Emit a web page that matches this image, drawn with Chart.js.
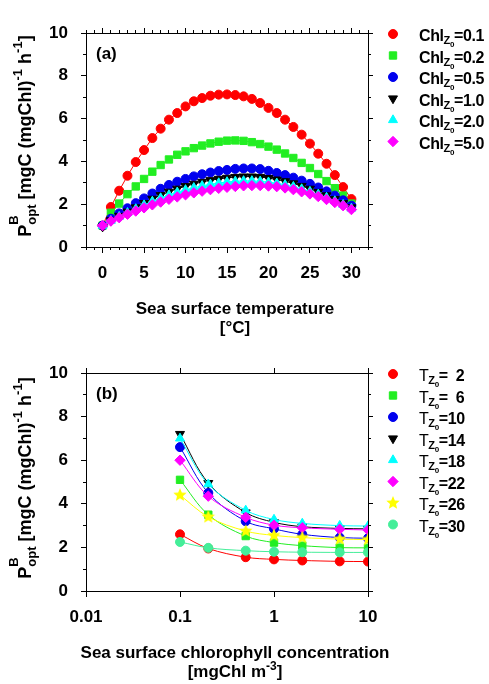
<!DOCTYPE html>
<html>
<head>
<meta charset="utf-8">
<script src="https://cdn.jsdelivr.net/npm/chart.js@4/dist/chart.umd.min.js"></script>
<style>
  html, body { margin: 0; padding: 0; background: #fff; }
  #wrap { position: relative; width: 489px; height: 684px; }
  #chartA { position: absolute; left: 0; top: 0; }
  #chartB { position: absolute; left: 0; top: 340px; }
</style>
</head>
<body>
<div id="wrap">
  <canvas id="chartA" width="489" height="340"></canvas>
  <canvas id="chartB" width="489" height="344"></canvas>
</div>
<script>
// ---- data, panel (a): P_opt vs sea surface temperature ----
var tempC = [0, 1, 2, 3, 4, 5, 6, 7, 8, 9, 10, 11, 12, 13, 14, 15, 16, 17, 18, 19, 20,
             21, 22, 23, 24, 25, 26, 27, 28, 29, 30];
var chlLevels = ['0.1', '0.2', '0.5', '1.0', '2.0', '5.0'];
var pChl01 = [1.0, 1.87, 2.63, 3.33, 3.97, 4.53, 5.09, 5.53, 5.95, 6.26, 6.57, 6.81, 6.96, 7.07, 7.12, 7.13,
              7.10, 7.04, 6.92, 6.73, 6.50, 6.26, 5.95, 5.61, 5.25, 4.83, 4.36, 3.89, 3.36, 2.80, 2.24];
var pChl02 = [1.0, 1.60, 2.03, 2.47, 2.83, 3.18, 3.52, 3.83, 4.09, 4.31, 4.47, 4.62, 4.74, 4.84, 4.92, 4.97,
              4.98, 4.96, 4.90, 4.81, 4.69, 4.55, 4.37, 4.16, 3.93, 3.69, 3.41, 3.08, 2.75, 2.40, 2.03];
var pChl05 = [1.0, 1.32, 1.57, 1.81, 2.05, 2.27, 2.50, 2.72, 2.90, 3.05, 3.18, 3.30, 3.40, 3.48, 3.55, 3.60,
              3.65, 3.67, 3.67, 3.64, 3.56, 3.46, 3.36, 3.24, 3.10, 2.95, 2.78, 2.60, 2.40, 2.18, 1.93];
var pChl10 = [0.95, 1.25, 1.45, 1.65, 1.85, 2.05, 2.25, 2.42, 2.58, 2.72, 2.84, 2.95, 3.04, 3.12, 3.18, 3.23,
              3.27, 3.29, 3.29, 3.27, 3.22, 3.15, 3.07, 2.97, 2.85, 2.72, 2.57, 2.41, 2.24, 2.05, 1.85];
var pChl20 = [1.0, 1.23, 1.42, 1.60, 1.78, 1.96, 2.13, 2.29, 2.43, 2.56, 2.67, 2.77, 2.86, 2.93, 2.99, 3.04,
              3.07, 3.09, 3.09, 3.07, 3.03, 2.98, 2.91, 2.82, 2.71, 2.59, 2.46, 2.31, 2.15, 1.98, 1.80];
var pChl50 = [1.0, 1.21, 1.37, 1.53, 1.68, 1.83, 1.97, 2.10, 2.23, 2.34, 2.44, 2.53, 2.61, 2.68, 2.74, 2.79,
              2.83, 2.86, 2.87, 2.87, 2.85, 2.82, 2.76, 2.68, 2.58, 2.48, 2.36, 2.22, 2.08, 1.93, 1.75];

// ---- data, panel (b): P_opt vs sea surface chlorophyll ----
var chlConc = [0.1, 0.2, 0.5, 1, 2, 5, 10];
var tempLevels = [2, 6, 10, 14, 18, 22, 26, 30];
var pT02 = [2.60, 1.95, 1.55, 1.45, 1.40, 1.36, 1.35];
var pT06 = [5.10, 3.50, 2.52, 2.22, 2.08, 1.99, 1.98];
var pT10 = [6.60, 4.50, 3.20, 2.85, 2.60, 2.45, 2.42];
var pT14 = [7.20, 4.95, 3.60, 3.15, 2.95, 2.87, 2.85];
var pT18 = [7.00, 4.90, 3.70, 3.28, 3.10, 3.00, 2.98];
var pT22 = [6.00, 4.35, 3.38, 3.02, 2.90, 2.83, 2.80];
var pT26 = [4.40, 3.40, 2.75, 2.55, 2.45, 2.38, 2.36];
var pT30 = [2.25, 1.98, 1.85, 1.80, 1.78, 1.77, 1.77];

// ---- tick labels ----
var yTicks = [0, 2, 4, 6, 8, 10];
var xTicksA = [0, 5, 10, 15, 20, 25, 30];
var xTicksB = [0.01, 0.1, 1, 10];

var FAMILY = '"Liberation Sans", Arial, Helvetica, sans-serif';
Chart.defaults.font.family = FAMILY;
Chart.defaults.font.size = 17;
Chart.defaults.font.weight = 'bold';
Chart.defaults.color = '#000';

function makeStar(color, r) {
    var c = document.createElement('canvas');
    c.width = c.height = 2 * r + 2;
    var g = c.getContext('2d');
    g.fillStyle = color;
    g.beginPath();
    for (var k = 0; k < 10; k++) {
        var rr = k % 2 ? r * 0.45 : r;
        var a = -Math.PI / 2 + k * Math.PI / 5;
        g.lineTo(r + 1 + rr * Math.cos(a), r + 1 + rr * Math.sin(a));
    }
    g.closePath();
    g.fill();
    return c;
}

function segFont(s) { return (s.w || 'bold') + ' ' + (s.s || 17) + 'px ' + FAMILY; }

// draw text with sub/superscripts; s.stack = do not advance (next seg shares x)
function drawRich(ctx, segs, x, y, align) {
    var total = 0;
    segs.forEach(function (s) {
        ctx.font = segFont(s);
        s._w = ctx.measureText(s.t).width;
        if (!s.stack) total += s._w;
    });
    var cx = align === 'center' ? x - total / 2 : x;
    ctx.textAlign = 'left';
    ctx.textBaseline = 'alphabetic';
    segs.forEach(function (s) {
        ctx.font = segFont(s);
        ctx.fillText(s.t, cx, y + (s.dy || 0));
        if (!s.stack) cx += s._w;
    });
}

var yTitle = [
    {t: 'P', s: 18}, {t: 'B', s: 13, dy: -13, stack: true}, {t: 'opt', s: 13, dy: 5},
    {t: ' [mgC (mgChl)', s: 18}, {t: '-1', s: 13, dy: -9}, {t: ' h', s: 18},
    {t: '-1', s: 13, dy: -9}, {t: ']', s: 18}
];

var richText = {
    id: 'richText',
    afterDraw: function (chart, args, opts) {
        var ctx = chart.ctx, ca = chart.chartArea;
        ctx.save();
        ctx.fillStyle = '#000';
        drawRich(ctx, [{t: opts.panel, s: 17}], ca.left + 10, ca.top + 26, 'left');
        opts.xTitle.forEach(function (line, i) {
            drawRich(ctx, line, 235, ca.bottom + 67 + i * 19, 'center');
        });
        ctx.save();
        ctx.translate(31, (ca.top + ca.bottom) / 2 - 4);
        ctx.rotate(-Math.PI / 2);
        drawRich(ctx, yTitle, 0, 0, 'center');
        ctx.restore();

        // legend
        chart.data.datasets.forEach(function (ds, i) {
            var y = ca.top + 1 + i * 21.5;
            ctx.fillStyle = ds.backgroundColor;
            ctx.strokeStyle = ds.backgroundColor;
            ctx.lineWidth = 1;
            Chart.helpers.drawPoint(ctx, {
                pointStyle: ds.pointStyle, rotation: ds.pointRotation || 0,
                radius: ds.pointRadius, borderWidth: 1
            }, ca.right + 25, y);
            ctx.fillStyle = '#000';
            ctx.letterSpacing = '-0.4px';
            drawRich(ctx, opts.legend[i], ca.right + 51, y + 7, 'left');
            ctx.letterSpacing = '0px';
        });
        ctx.restore();
    }
};

function series(label, data, color, style, radius, rot) {
    return {
        label: label, data: data, borderColor: color, backgroundColor: color,
        borderWidth: 1, pointStyle: style, pointRadius: radius, pointRotation: rot || 0,
        pointBorderWidth: 1, pointBorderColor: color, pointBackgroundColor: color
    };
}

function frameScales(xType, xMin, xMax, xMajor, xStep, yMin, yMax) {
    function fixTicks(list) { return function (s) { s.ticks = list.map(function (v) { return {value: v}; }); }; }
    var grid = function (len) { return {drawOnChartArea: false, drawTicks: true, tickLength: len, tickColor: '#000', tickWidth: 1}; };
    var sc = {
        x: {
            axis: 'x', type: xType, position: 'bottom', min: xMin, max: xMax, weight: 1,
            afterBuildTicks: fixTicks(xMajor),
            ticks: {autoSkip: false, maxRotation: 0, padding: 10, callback: function (v) { return String(v); }},
            grid: grid(6), border: {display: true, color: '#000', width: 1},
            afterFit: function (s) { s.height = 93; }
        },
        xTop: {
            axis: 'x', type: xType, position: 'top', min: xMin, max: xMax, weight: 1,
            afterBuildTicks: fixTicks(xMajor), ticks: {display: false},
            grid: grid(5), border: {display: true, color: '#000', width: 1},
            afterFit: function (s) { s.height = 0; }
        },
        y: {
            axis: 'y', type: 'linear', position: 'left', min: yMin, max: yMax, weight: 1,
            afterBuildTicks: fixTicks(yTicks),
            ticks: {padding: 13, callback: function (v) { return String(v); }},
            grid: grid(5), border: {display: true, color: '#000', width: 1},
            afterFit: function (s) { s.width = 86; }
        },
        yMinor: {
            axis: 'y', type: 'linear', position: 'left', min: yMin, max: yMax, weight: 0,
            ticks: {display: false, stepSize: 1}, grid: grid(3), border: {display: false},
            afterFit: function (s) { s.width = 0; }
        },
        yRight: {
            axis: 'y', type: 'linear', position: 'right', min: yMin, max: yMax, weight: 1,
            afterBuildTicks: fixTicks(yTicks), ticks: {display: false},
            grid: grid(5), border: {display: true, color: '#000', width: 1},
            afterFit: function (s) { s.width = 0; }
        },
        yRightMinor: {
            axis: 'y', type: 'linear', position: 'right', min: yMin, max: yMax, weight: 0,
            ticks: {display: false, stepSize: 1}, grid: grid(3), border: {display: false},
            afterFit: function (s) { s.width = 0; }
        }
    };
    if (xStep) {
        sc.xMinor = {
            axis: 'x', type: xType, position: 'bottom', min: xMin, max: xMax, weight: 0,
            ticks: {display: false, stepSize: xStep}, grid: grid(3), border: {display: false},
            afterFit: function (s) { s.height = 0; }
        };
        sc.xTopMinor = {
            axis: 'x', type: xType, position: 'top', min: xMin, max: xMax, weight: 0,
            ticks: {display: false, stepSize: xStep}, grid: grid(3), border: {display: false},
            afterFit: function (s) { s.height = 0; }
        };
    }
    return sc;
}

function baseOptions(scales, rich) {
    return {
        responsive: false,
        animation: false,
        events: [],
        layout: {padding: {left: 0, right: 121, top: 33, bottom: 0}},
        scales: scales,
        plugins: {legend: {display: false}, tooltip: {enabled: false}, richText: rich}
    };
}

function chlLegend(lvl) {
    return [{t: 'Chl', s: 16}, {t: 'Z', s: 11, dy: 3}, {t: '0', s: 8, dy: 6}, {t: '=' + lvl, s: 16}];
}
function tLegend(lvl) {
    var txt = lvl < 10 ? '=  ' + lvl : '=' + lvl;
    return [{t: 'T', s: 16, w: 'normal'}, {t: 'Z', s: 11, dy: 3}, {t: '0', s: 8, dy: 6}, {t: txt, s: 16}];
}

// ---- panel (a) ----
var dsA = [
    series('Chl 0.1', pChl01, '#ff0000', 'circle', 4.5),
    series('Chl 0.2', pChl02, '#22ee22', 'rect', 5.2),
    series('Chl 0.5', pChl05, '#0000ee', 'circle', 4.5),
    series('Chl 1.0', pChl10, '#000000', 'triangle', 5.2, 180),
    series('Chl 2.0', pChl20, '#00ffff', 'triangle', 5.2),
    series('Chl 5.0', pChl50, '#ff00ff', 'rectRot', 5.2)
];
dsA.forEach(function (d, i) { d.order = 10 - i; });

new Chart(document.getElementById('chartA').getContext('2d'), {
    type: 'line',
    data: {
        datasets: dsA.map(function (d) {
            d.data = d.data.map(function (v, i) { return {x: tempC[i], y: v}; });
            return d;
        })
    },
    options: baseOptions(frameScales('linear', -2, 32, xTicksA, 1, 0, 10), {
        panel: '(a)',
        xTitle: [[{t: 'Sea surface temperature', s: 17}], [{t: '[°C]', s: 17}]],
        legend: chlLevels.map(chlLegend)
    }),
    plugins: [richText]
});

// ---- panel (b) ----
var star = makeStar('#ffff00', 7);
var dsB = [
    series('T 2', pT02, '#ff0000', 'circle', 4.5),
    series('T 6', pT06, '#22ee22', 'rect', 5.2),
    series('T 10', pT10, '#0000ee', 'circle', 4.5),
    series('T 14', pT14, '#000000', 'triangle', 5.2, 180),
    series('T 18', pT18, '#00ffff', 'triangle', 5.2),
    series('T 22', pT22, '#ff00ff', 'rectRot', 5.2),
    series('T 26', pT26, '#ffff00', star, 5),
    series('T 30', pT30, '#44ee99', 'circle', 4.5)
];
dsB.forEach(function (d, i) { d.order = 10 - i; d.tension = 0.35; });

new Chart(document.getElementById('chartB').getContext('2d'), {
    type: 'line',
    data: {
        datasets: dsB.map(function (d) {
            d.data = d.data.map(function (v, i) { return {x: chlConc[i], y: v}; });
            return d;
        })
    },
    options: baseOptions(frameScales('logarithmic', 0.01, 10, xTicksB, 0, 0, 10), {
        panel: '(b)',
        xTitle: [[{t: 'Sea surface chlorophyll concentration', s: 17}],
                 [{t: '[mgChl m', s: 17}, {t: '-3', s: 12, dy: -7}, {t: ']', s: 17}]],
        legend: tempLevels.map(tLegend)
    }),
    plugins: [richText]
});
</script>
</body>
</html>
